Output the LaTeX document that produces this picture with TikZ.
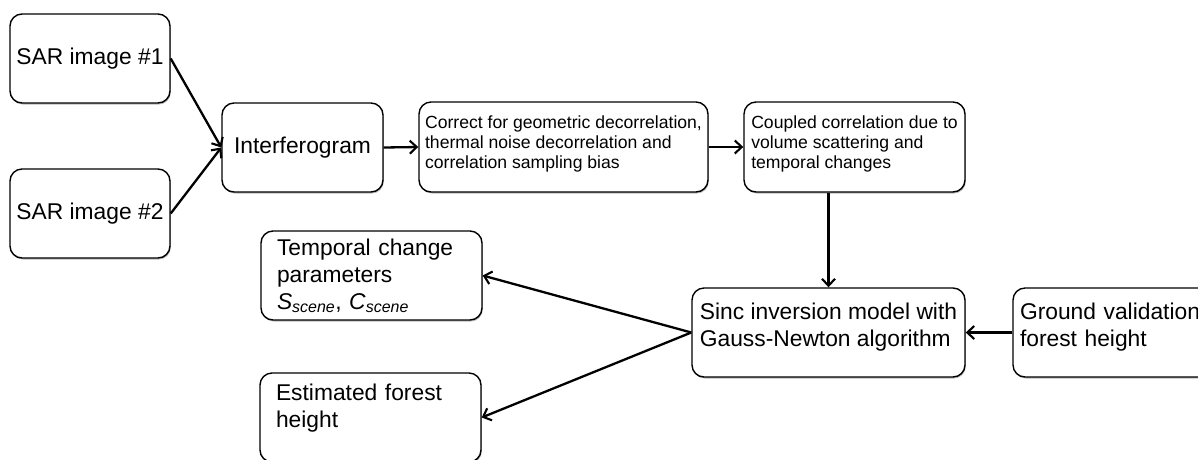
\documentclass[tikz,border=0pt]{standalone}
\usepackage{fontspec}
\setmainfont{Liberation Sans}
\usetikzlibrary{arrows.meta,shadows}
\begin{document}
\begin{tikzpicture}[x=1pt,y=-1pt,
  box/.style={draw=black, line width=1.4pt, rounded corners=12pt, fill=white,
    align=left, inner sep=0pt,
    drop shadow={shadow xshift=0.8pt, shadow yshift=-1.5pt, fill=black!60, opacity=0.45},
    font=\fontsize{22.8}{27}\selectfont},
  smallbox/.style={box, font=\fontsize{17.6}{20.3}\selectfont},
  arr/.style={line width=2.3pt, -{Straight Barb[length=7pt,width=13pt,line width=2.1pt]}}
]
\useasboundingbox (0,0) rectangle (1198,459);

\node[box, minimum width=160pt, minimum height=89pt] (sar1) at (90,58.5) {SAR image \#1};
\node[box, minimum width=160pt, minimum height=89pt] (sar2) at (90,213.5) {SAR image \#2};
\node[box, minimum width=161pt, minimum height=89pt] (inter) at (302.5,147.5) {Interferogram};
\node[smallbox, minimum width=289pt, minimum height=90pt] (corr) at (563.5,147)
  {Correct for geometric decorrelation,\\thermal noise decorrelation and\\correlation sampling bias\rule[-10pt]{0pt}{0pt}};
\node[smallbox, minimum width=221pt, minimum height=90pt] (coup) at (854.5,147)
  {Coupled correlation due to\\volume scattering and\\temporal changes\rule[-10pt]{0pt}{0pt}};
\node[box, minimum width=273pt, minimum height=89pt] (sinc) at (828.5,332.5)
  {Sinc inversion model with\\Gauss-Newton algorithm\rule[-16pt]{0pt}{0pt}};
\node[box, minimum width=217pt, minimum height=89pt, text width=203pt, inner xsep=7pt] (ground) at (1121.5,332.5)
  {Ground validation\\forest height\rule[-16pt]{0pt}{0pt}};
\node[box, minimum width=221pt, minimum height=89pt, text width=189pt, inner xsep=16pt] (temp) at (371.5,275.5)
  {Temporal change\\parameters\\\textit{S}\textsubscript{\textit{scene}}, \textit{C}\textsubscript{\textit{scene}}};
\node[box, minimum width=221pt, minimum height=89pt, text width=189pt, inner xsep=16pt] (est) at (370.5,417.5)
  {Estimated forest\\height\rule[-23pt]{0pt}{0pt}};

\draw[arr] (sar1.east) -- (inter.west);
\draw[arr] (sar2.east) -- (inter.west);
\draw[arr] (inter.east) -- (corr.west);
\draw[arr] (corr.east) -- (coup.west);
\draw[arr] (coup.south -| sinc.north) -- (sinc.north);
\draw[arr] (ground.west) -- (sinc.east);
\draw[arr] (sinc.west) -- (temp.east);
\draw[arr] (sinc.west) -- (est.east);
\end{tikzpicture}
\end{document}
